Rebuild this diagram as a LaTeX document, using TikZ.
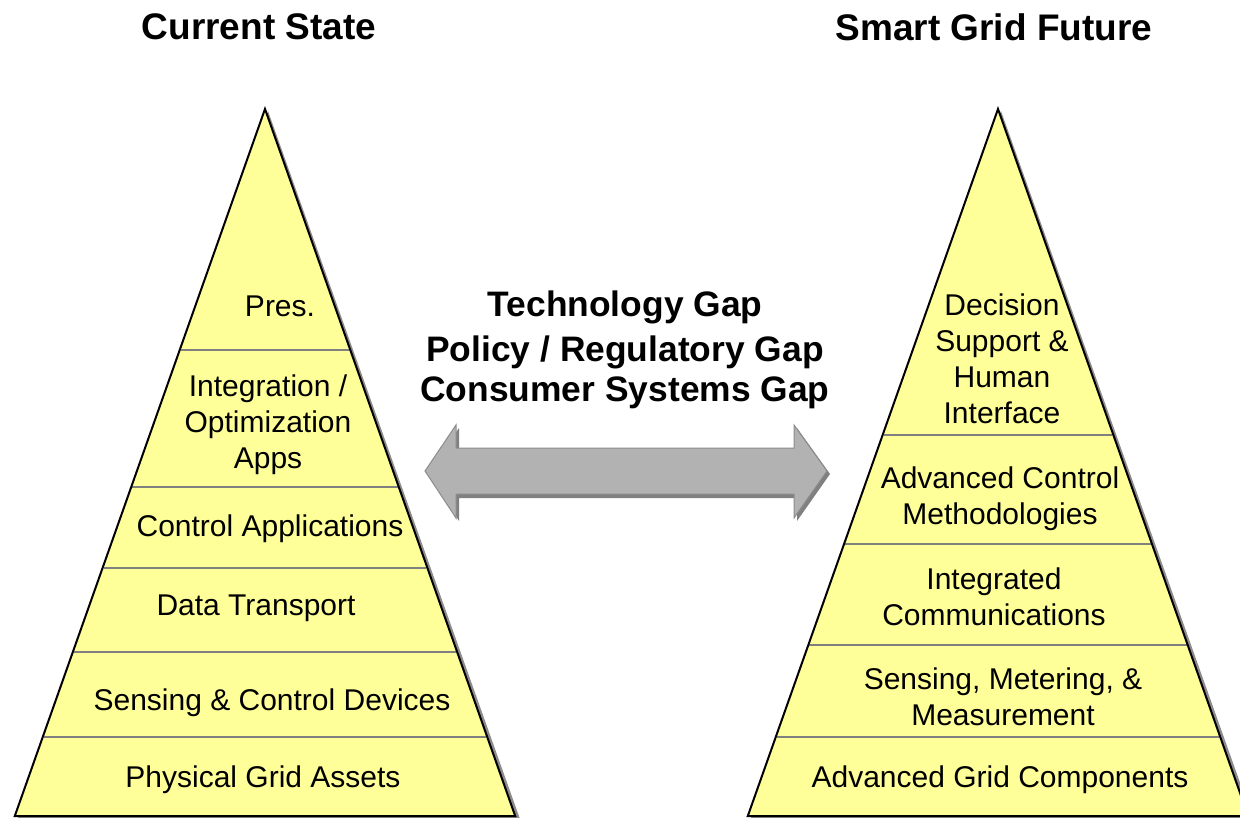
\documentclass[tikz,border=0pt]{standalone}
\usepackage{fontspec}
\setmainfont{Liberation Sans}
\begin{document}
\begin{tikzpicture}[x=1pt,y=-1pt,
  tri/.style={draw=black,line width=2pt,line join=miter},
  trishadow/.style={fill=black!45},
  divider/.style={draw=black!50,line width=1.3pt},
  lbl/.style={font=\fontsize{30}{36}\selectfont,align=center,inner sep=0pt,anchor=center},
  title/.style={font=\fontsize{37}{44}\selectfont\bfseries,inner sep=0pt},
  gap/.style={font=\fontsize{35.4}{43}\selectfont\bfseries,inner sep=0pt},
  arrowbody/.style={fill=black!30,draw=black!45,line width=1pt},
  arrowshadow/.style={fill=black!50}]
\definecolor{pyr}{RGB}{255,255,153}
\useasboundingbox (0,0) rectangle (1240,817);
\clip (0,0) rectangle (1240,817);
% ---- left pyramid
\fill[trishadow] (268,111) -- (519.6,818) -- (18,818) -- cycle;
\fill[pyr] (265,109) -- (515.2,816) -- (14.8,816) -- cycle;
\foreach \yy in {350,487,568,652,737}
  \draw[divider] ({265-0.35389*(\yy-109)+1},\yy) -- ({265+0.35389*(\yy-109)-1},\yy);
\draw[tri] (265,109) -- (515.2,816) -- (14.8,816) -- cycle;
% ---- right pyramid
\fill[trishadow] (1001,111) -- (1252.6,818) -- (751,818) -- cycle;
\fill[pyr] (998,109) -- (1248.2,816) -- (747.8,816) -- cycle;
\foreach \yy in {435,544,645,737}
  \draw[divider] ({998-0.35389*(\yy-109)+1},\yy) -- ({998+0.35389*(\yy-109)-1},\yy);
\draw[tri] (998,109) -- (1248.2,816) -- (747.8,816) -- cycle;
% ---- titles
\node[title] (t1) at (259,27) {Current State};
\node[title] (t2) at (994,27) {Smart Grid Future};
% ---- left labels
\node[lbl] (l1) at (280,306) {Pres.};
\node[lbl] (l2) at (268,425) {Integration /\\Optimization\\Apps};
\node[lbl] (l3) at (270,529) {Control Applications};
\node[lbl] (l4) at (256,608) {Data Transport};
\node[lbl] (l5) at (272,703) {Sensing \& Control Devices};
\node[lbl] (l6) at (263,780) {Physical Grid Assets};
% ---- right labels
\node[lbl] (r1) at (1002,359) {Decision\\Support \&\\Human\\Interface};
\node[lbl] (r2) at (1000,499) {Advanced Control\\Methodologies};
\node[lbl] (r3) at (994,597) {Integrated\\Communications};
\node[lbl] (r4) at (1003,697) {Sensing, Metering, \&\\Measurement};
\node[lbl] (r5) at (1000,780) {Advanced Grid Components};
% ---- gap text
\node[gap] (g1) at (625,307) {Technology Gap};
\node[gap] (g2) at (625,352) {Policy / Regulatory Gap};
\node[gap] (g3) at (625,393) {Consumer Systems Gap};
% ---- double arrow
\fill[arrowshadow] (428,474) -- (459,428) -- (459,451) -- (797,451) -- (797,428) -- (830,474) -- (797,521) -- (797,498) -- (459,498) -- (459,521) -- cycle;
\draw[arrowbody] (425,471) -- (456,425) -- (456,448) -- (794,448) -- (794,425) -- (827,471) -- (794,518) -- (794,494) -- (456,494) -- (456,518) -- cycle;
\end{tikzpicture}
\end{document}
